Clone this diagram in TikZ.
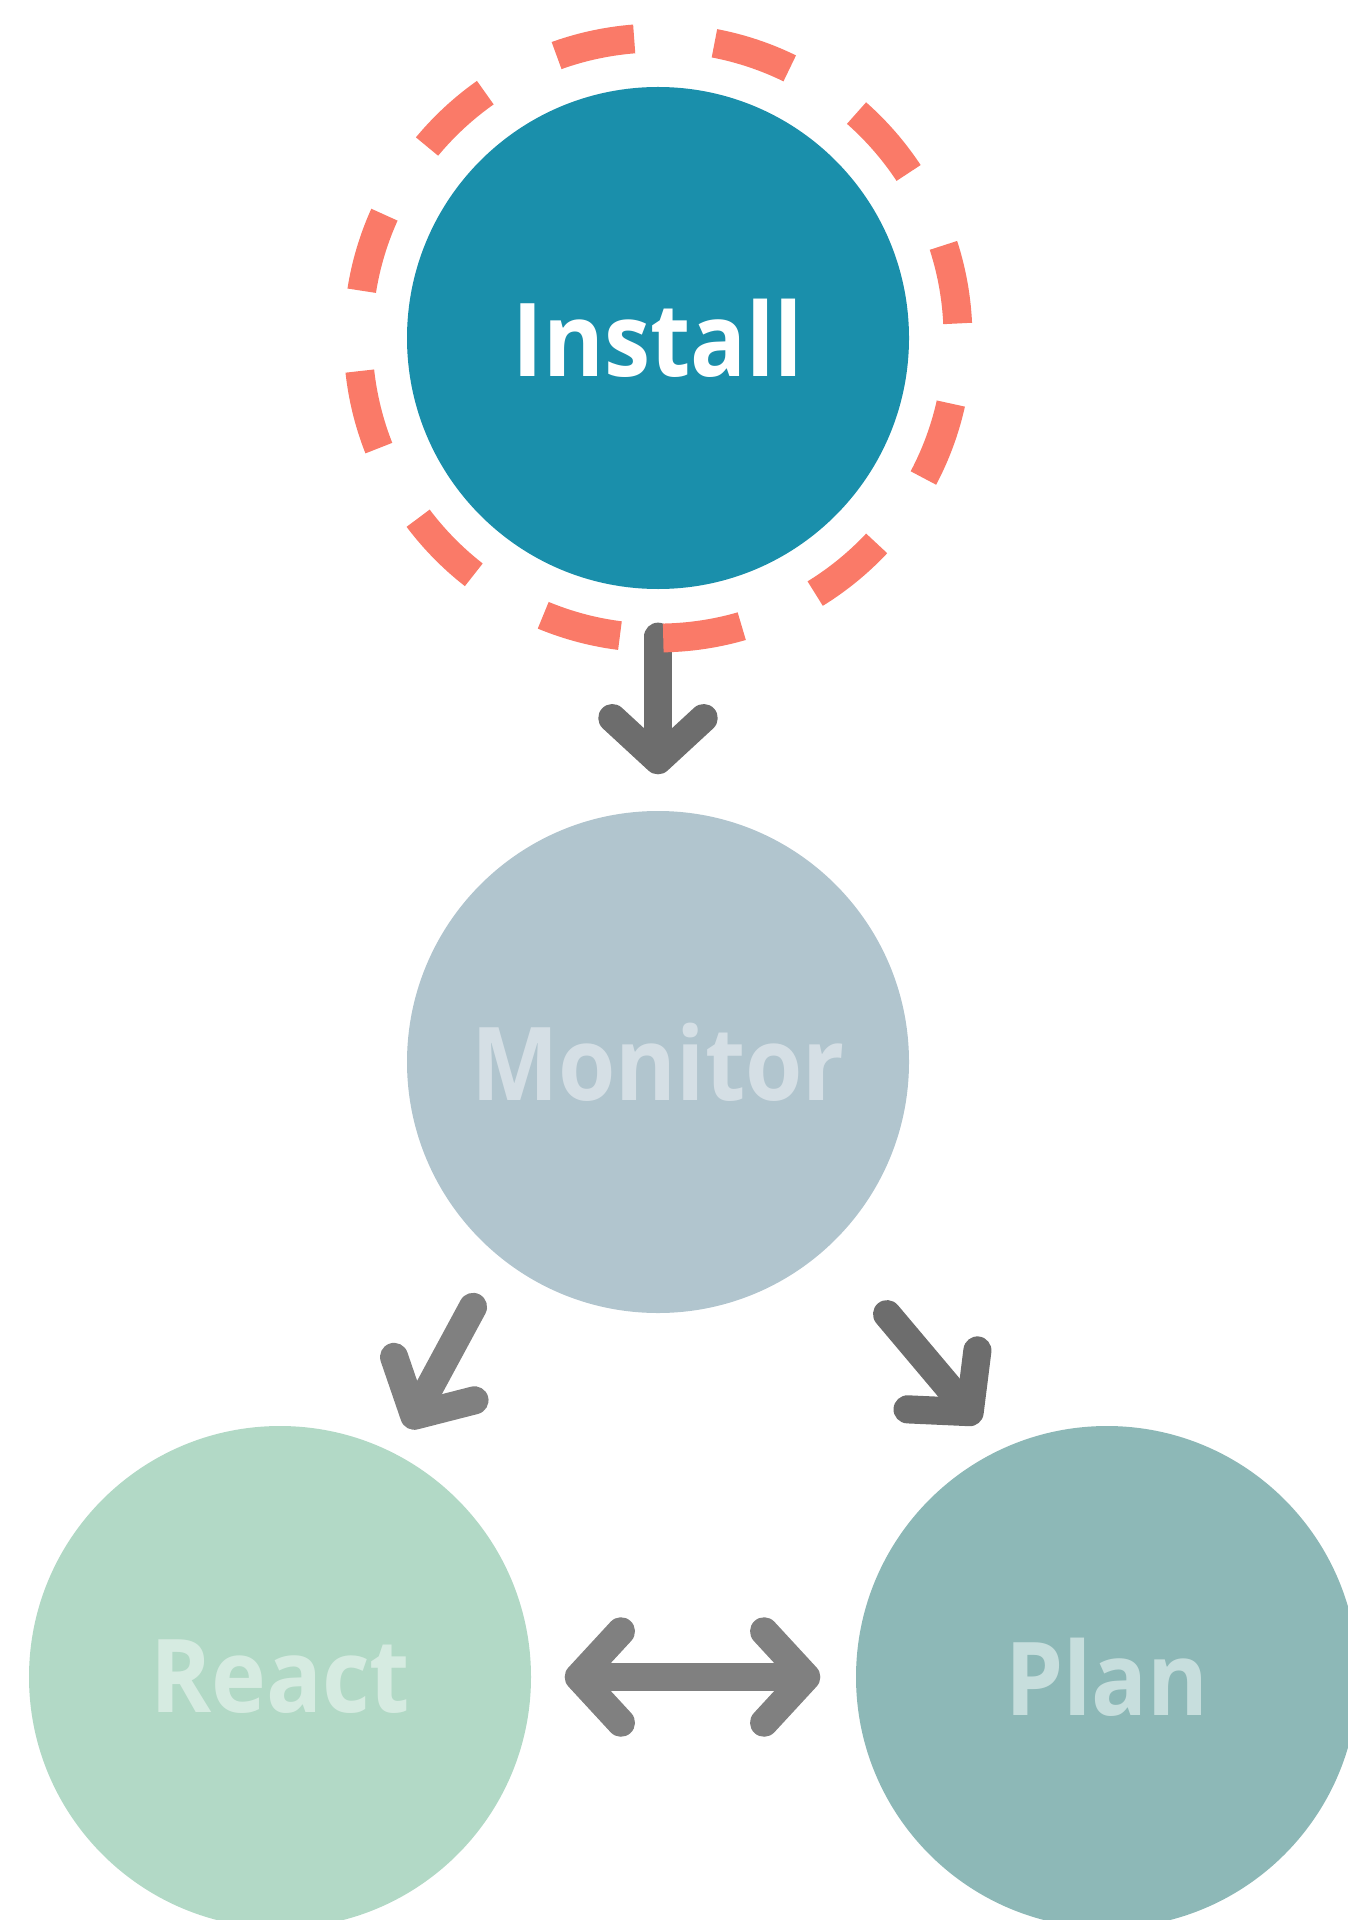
\documentclass[tikz,border=0pt]{standalone}
\usepackage{fontspec}
\setmainfont{Open Sans}[FakeStretch=0.91]
\usetikzlibrary{arrows.meta}

\definecolor{installblue}{RGB}{26,143,171}
\definecolor{monitorgray}{RGB}{177,197,206}
\definecolor{monitortext}{RGB}{213,223,229}
\definecolor{reactgreen}{RGB}{178,217,198}
\definecolor{reacttext}{RGB}{214,235,225}
\definecolor{planteal}{RGB}{141,184,183}
\definecolor{plantext}{RGB}{199,222,221}
\definecolor{salmon}{RGB}{250,122,104}
\definecolor{darkarrow}{RGB}{109,109,109}
\definecolor{midarrow}{RGB}{128,128,128}

\tikzset{
  stage/.style={circle,minimum size=5.02cm,inner sep=0pt,
                font=\fontsize{29}{33}\selectfont\bfseries},
  barb/.tip={Straight Barb[round,length=12pt,width=26pt]},
  flow/.style={line width=8pt,line cap=round,-barb},
  ringdash/.style={salmon,line width=8.2pt,
                   dash pattern=on 0.796cm off 0.806cm},
}

\begin{document}
\begin{tikzpicture}
  \useasboundingbox (0,0) rectangle (13.47,-19.20);

  % the four stages
  \node[stage,fill=installblue,text=white] (install) at (6.58,-3.38) {Install};
  \node[stage,fill=monitorgray,text=monitortext] (monitor) at (6.58,-10.62) {Monitor};
  \node[stage,fill=reactgreen,text=reacttext] (react) at (2.80,-16.77) {React};
  \node[stage,fill=planteal,text=plantext] (plan) at (11.07,-16.77) {Plan};

  % arrows between them
  \draw[flow,darkarrow,shorten <=0.47cm,shorten >=0.36cm] (install) -- (monitor);
  \draw[flow,midarrow,shorten <=0.56cm,shorten >=0.28cm] (monitor.231.6) -- (react.63.8);
  \draw[flow,darkarrow,shorten <=0.89cm,shorten >=0.34cm] (monitor.313.1) -- (plan.115.8);
  \draw[flow,midarrow,barb-barb,shorten <=0.33cm,shorten >=0.35cm] (react) -- (plan);

  % dashed ring round the current stage, seam at the bottom
  \draw[ringdash] ([shift={(271:3)}]install.center)
    arc[start angle=271,delta angle=360,radius=3];
\end{tikzpicture}
\end{document}
